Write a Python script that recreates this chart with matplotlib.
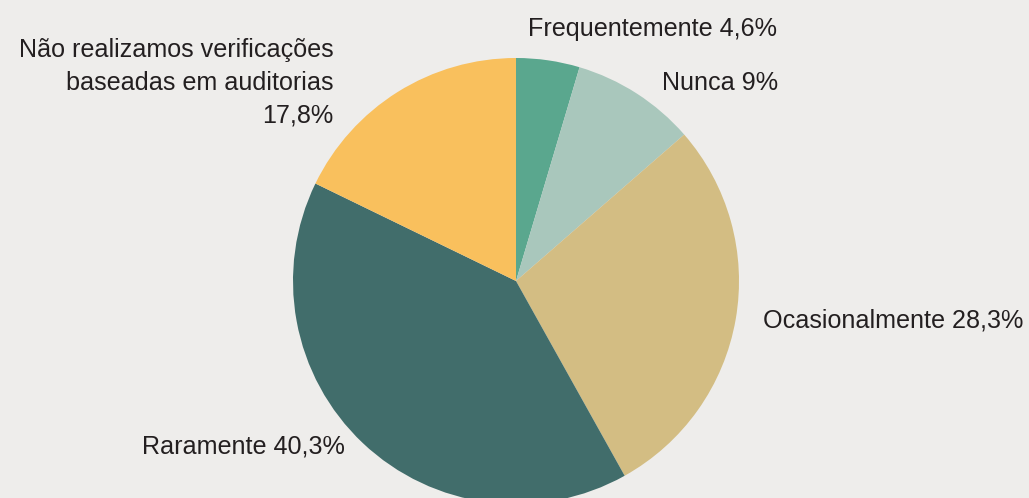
import matplotlib.pyplot as plt

plt.rcParams['font.family'] = ['Liberation Sans', 'DejaVu Sans']

categories = ["Frequentemente", "Nunca", "Ocasionalmente", "Raramente",
              "Não realizamos verificações\nbaseadas em auditorias"]
values = [4.6, 9.0, 28.3, 40.3, 17.8]
value_labels = ["4,6%", "9%", "28,3%", "40,3%", "17,8%"]
colors = ["#5aa78e", "#a9c7bc", "#d3bd83", "#416d6b", "#f9c05d"]

bg = "#eeedeb"
fig = plt.figure(figsize=(10.29, 4.98), dpi=100, facecolor=bg)
ax = fig.add_axes([0, 0, 1, 1])
ax.set_facecolor(bg)

ax.pie(values, colors=colors, startangle=90, counterclock=False,
       radius=1.0, center=(0, 0))

# pie centre at (516, 281) px, radius 223 px
r = 223.0
ax.set_xlim(-516 / r, (1029 - 516) / r)
ax.set_ylim(-(498 - 281) / r, 281 / r)
ax.set_aspect('auto')
ax.axis('off')

# label anchor positions (data units), alignment
label_pos = [
    (1.17, 1.130, 'right'),
    (1.175, 0.888, 'right'),
    (1.108, -0.175, 'left'),
    (-0.767, -0.740, 'right'),
    (-0.82, 0.888, 'right'),
]
for cat, lab, (x, y, ha) in zip(categories, value_labels, label_pos):
    if "\n" in cat:
        txt = cat + "\n" + lab
    else:
        txt = cat + " " + lab
    ax.text(x, y, txt, ha=ha, va='center', fontsize=18.1, color="#231f20",
            multialignment='right', linespacing=1.45)

fig.savefig("out.png", dpi=100, facecolor=bg)
